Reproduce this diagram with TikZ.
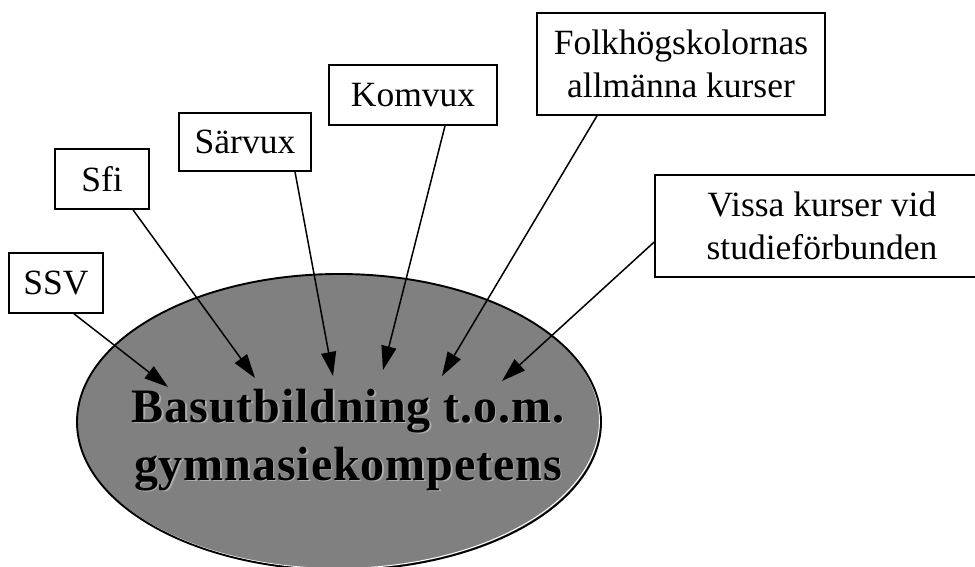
\documentclass[tikz,border=0pt]{standalone}
\usepackage{fontspec}
\setmainfont{Liberation Serif}
\usetikzlibrary{arrows.meta,shapes.geometric}
\definecolor{shadowgray}{RGB}{172,172,172}
\begin{document}
\begin{tikzpicture}[x=1pt,y=-1pt,
  box/.style={draw, line width=1.6pt, font=\fontsize{35.5}{43}\selectfont, align=center, inner sep=0pt},
  arr/.style={line width=1.5pt, -{Triangle[length=24pt,width=15pt]}},
  big/.style={font=\bfseries\fontsize{48}{58}\selectfont\addfontfeatures{LetterSpace=1.9}, anchor=base, inner sep=0pt}]
\useasboundingbox (0,0) rectangle (975,567);
\clip (0,0) rectangle (975,567);

% central ellipse
\node[ellipse, fill=gray, minimum width=524pt, minimum height=296pt, inner sep=0pt] (base) at (339,422) {};
\draw[white, line width=1pt] ([shift={(-1.5,-1.5)}]base.center) ellipse [x radius=262pt, y radius=148pt];
\draw[line width=1.9pt] (base.center) ellipse [x radius=262pt, y radius=148pt];

% central text with shadow
\node[big, text=shadowgray] (l1s) at (349.5,423.5) {Basutbildning t.o.m.};
\node[big, text=shadowgray] (l2s) at (349.5,481.5) {gymnasiekompetens};
\node[big] (l1) at (348,422) {Basutbildning t.o.m.};
\node[big] (l2) at (348,480) {gymnasiekompetens};

% boxes
\node[box, minimum width=94pt, minimum height=60pt] (ssv) at (56,283) {SSV};
\node[box, minimum width=94pt, minimum height=60pt] (sfi) at (102,179) {Sfi};
\node[box, minimum width=132pt, minimum height=58pt] (sarvux) at (245,142) {Särvux};
\node[box, minimum width=168pt, minimum height=60pt] (komvux) at (413,95) {Komvux};
\node[box, minimum width=288pt, minimum height=102pt] (folk) at (681,64) {Folkhögskolornas\\allmänna kurser};
\node[box, minimum width=334pt, minimum height=102pt] (vissa) at (822,226) {Vissa kurser vid\\studieförbunden};

% arrow tips inside the ellipse
\coordinate (t1) at (168,387);
\coordinate (t2) at (255,378);
\coordinate (t3) at (333,376);
\coordinate (t4) at (383,370);
\coordinate (t5) at (442,376);
\coordinate (t6) at (502,381);

\draw[arr] ([xshift=18pt]ssv.south) -- (t1);
\draw[arr] ([xshift=31pt]sfi.south) -- (t2);
\draw[arr] ([xshift=50pt]sarvux.south) -- (t3);
\draw[arr] ([xshift=32pt]komvux.south) -- (t4);
\draw[arr] ([xshift=-84pt]folk.south) -- (t5);
\draw[arr] ([yshift=-16pt]vissa.west) -- (t6);
\end{tikzpicture}
\end{document}
